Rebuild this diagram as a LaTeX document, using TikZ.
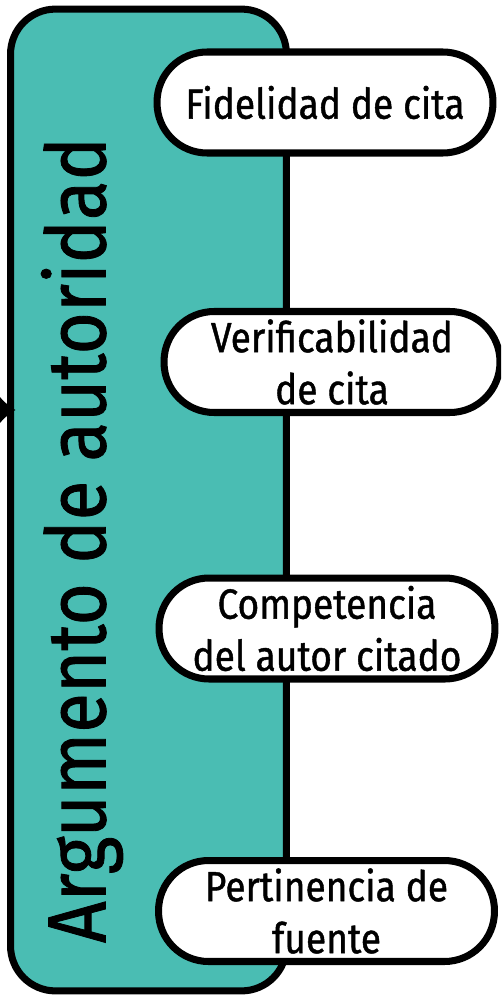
\documentclass[tikz,border=0pt]{standalone}
\usepackage{fontspec}
\setmainfont[FakeStretch=0.88, FakeBold=1]{Fira Sans}
\usetikzlibrary{arrows}
\usetikzlibrary{arrows.meta, calc, positioning}
\definecolor{tealbox}{RGB}{74,189,179}

\begin{document}
\begin{tikzpicture}[>={Latex[length=0.34cm,width=0.62cm]}, x=0.02cm, y=-0.02cm,
  pill/.style={draw, fill=white, line width=4pt, rounded corners=1cm, align=center,
    minimum width=6.72cm, minimum height=2.02cm, inner sep=0pt,
    font=\fontsize{24}{29.6}\selectfont}]
\useasboundingbox (0,0) rectangle (501,1000);
\clip (0,0) rectangle (501,1000);
\node[draw, fill=tealbox, line width=4pt, rounded corners=0.9cm, minimum width=5.52cm, minimum height=19.64cm] at (148.5,500) (A) {};
\node[rotate=90, font=\fontsize{47}{56}\selectfont] at (82,540) (T) {Argumento de autoridad};
\node[pill] at (325,102.5) (B) {Fidelidad de cita};
\node[pill] at (332,362) (C) {Verificabilidad\\de cita};
\node[pill] at (327,628.5) (D) {Competencia\\del autor citado};
\node[pill] at (326.5,911) (E) {Pertinencia de\\fuente};
\coordinate (in) at (-60,410);
\draw[->, line width=2pt, shorten >=-0.17cm] (in) to (A.west |- in);
\end{tikzpicture}
\end{document}
